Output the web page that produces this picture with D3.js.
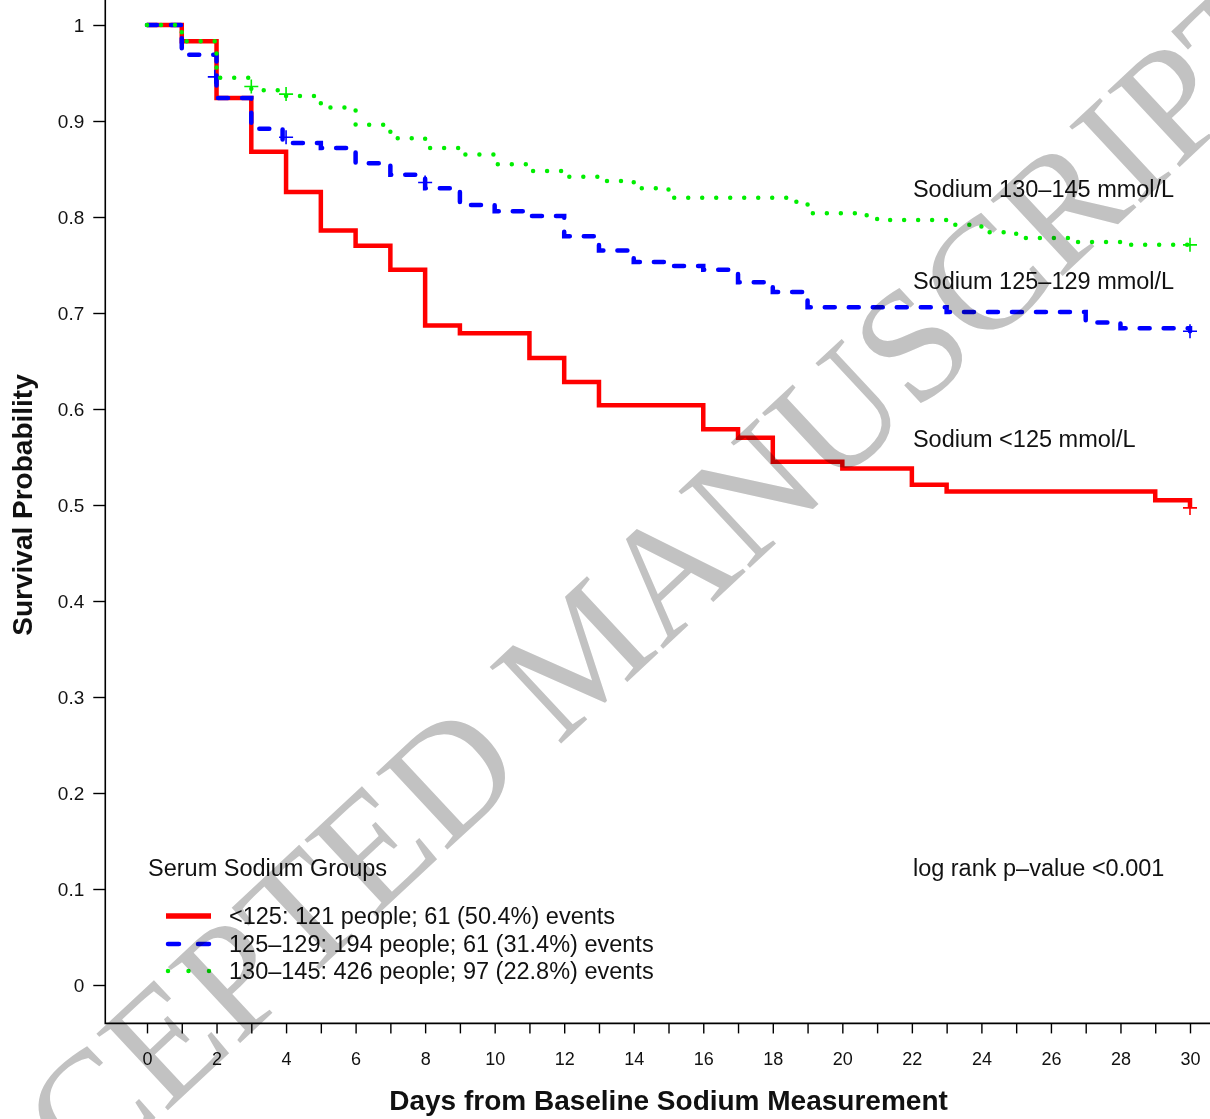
<!DOCTYPE html>
<html>
<head>
<meta charset="utf-8">
<script src="https://cdn.jsdelivr.net/npm/d3@7"></script>
<style>
  body { margin: 0; background: #fff; }
  text { font-family: "Liberation Sans", Arial, Helvetica, sans-serif; fill: #111; }
</style>
</head>
<body>
<div id="vis"></div>
<script>
const FRAME_WIDTH = 1210;
const FRAME_HEIGHT = 1119;

//###############################################################
// Data (Kaplan-Meier steps per sodium group)
//###############################################################

// Sodium <125
const redDays = [0, 1, 2, 3, 4, 5, 6, 7, 8, 9, 11, 12, 13, 16, 17, 18, 20, 22, 23, 29, 30];
const redSurv = [1, 0.983, 0.924, 0.868, 0.826, 0.786, 0.770, 0.745, 0.687, 0.679, 0.653,
                 0.628, 0.604, 0.579, 0.570, 0.545, 0.538, 0.521, 0.514, 0.505, 0.497];
const redCensor = [[30, 0.497]];

// Sodium 125-129
const blueDays = [0, 1, 2, 3, 3.9, 5, 6, 7, 8, 9, 10, 11, 12, 13, 14, 15, 16, 17, 18, 19, 23, 27, 28, 30];
const blueSurv = [1, 0.969, 0.924, 0.892, 0.877, 0.872, 0.856, 0.844, 0.830, 0.8125, 0.806, 0.801,
                  0.780, 0.765, 0.753, 0.749, 0.745, 0.732, 0.722, 0.706, 0.701, 0.690, 0.684, 0.681];
const blueCensor = [[1.95, 0.946], [4, 0.883], [8, 0.836], [30, 0.681]];

// Sodium 130-145
const greenDays = [0, 1, 2, 3, 4, 5, 6, 7, 8, 9, 10, 11, 12, 13, 14, 15, 18.5, 19, 20.7, 21, 23, 24, 25, 26.5, 28, 30];
const greenSurv = [1, 0.983, 0.945, 0.932, 0.926, 0.914, 0.896, 0.882, 0.872, 0.865, 0.855, 0.848,
                   0.842, 0.8375, 0.830, 0.820, 0.816, 0.804, 0.800, 0.797, 0.792, 0.784, 0.778,
                   0.774, 0.771, 0.771];
const greenCensor = [[3, 0.936], [4, 0.928], [30, 0.771]];

// axis ticks
const xTicks = d3.range(0, 31, 1);
const xTickLabels = [0, 2, 4, 6, 8, 10, 12, 14, 16, 18, 20, 22, 24, 26, 28, 30];
const yTicks = [0, 0.1, 0.2, 0.3, 0.4, 0.5, 0.6, 0.7, 0.8, 0.9, 1];

// text
const curveLabels = ["Sodium 130\u2013145 mmol/L", "Sodium 125\u2013129 mmol/L", "Sodium <125 mmol/L"];
const legendTitle = "Serum Sodium Groups";
const legendLabels = ["<125: 121 people; 61 (50.4%) events",
                      "125\u2013129: 194 people; 61 (31.4%) events",
                      "130\u2013145: 426 people; 97 (22.8%) events"];
const pValueText = "log rank p\u2013value <0.001";

//###############################################################
// Frame and scales
//###############################################################

const svg = d3.select("#vis")
  .append("svg")
    .attr("width", FRAME_WIDTH)
    .attr("height", FRAME_HEIGHT);

const X_SCALE = d3.scaleLinear().domain([0, 30]).range([147, 1190]);
const Y_SCALE = d3.scaleLinear().domain([0, 1]).range([985, 25]);

// L shaped box (R adds 4% on each side)
const x0 = X_SCALE(-1.2), x1 = X_SCALE(31.2);
const yBot = Y_SCALE(-0.04), yTop = Y_SCALE(1.04);
svg.append("path")
  .attr("d", `M${x0},${yTop}V${yBot}H${x1}`)
  .attr("fill", "none")
  .attr("stroke", "#000")
  .attr("stroke-width", 1.6);

// y axis
const yAxis = svg.append("g")
  .attr("transform", `translate(${x0},0)`)
  .call(d3.axisLeft(Y_SCALE)
          .tickValues(yTicks)
          .tickSize(12)
          .tickPadding(9)
          .tickFormat(d => String(+d.toFixed(1))));
yAxis.select(".domain").remove();
yAxis.selectAll(".tick line").attr("stroke", "#000").attr("stroke-width", 1.4);
yAxis.selectAll(".tick text")
  .attr("font-size", "19px")
  .attr("font-family", "Liberation Sans, Arial, sans-serif")
  .style("fill", "#111");

// x axis: a tick every day, labels on even days
const xAxis = svg.append("g")
  .attr("transform", `translate(0,${yBot})`)
  .call(d3.axisBottom(X_SCALE)
          .tickValues(xTicks)
          .tickSize(10)
          .tickPadding(19)
          .tickFormat(d => xTickLabels.includes(d) ? d : ""));
xAxis.select(".domain").remove();
xAxis.selectAll(".tick line").attr("stroke", "#000").attr("stroke-width", 1.4);
xAxis.selectAll(".tick text")
  .attr("font-size", "18px")
  .attr("font-family", "Liberation Sans, Arial, sans-serif")
  .style("fill", "#111");

// axis titles
svg.append("text")
  .attr("x", (X_SCALE(0) + X_SCALE(30)) / 2)
  .attr("y", 1110)
  .attr("text-anchor", "middle")
  .attr("font-size", "28px")
  .attr("font-weight", "bold")
  .text("Days from Baseline Sodium Measurement");

svg.append("text")
  .attr("transform", `translate(32,${Y_SCALE(0.5)}) rotate(-90)`)
  .attr("text-anchor", "middle")
  .attr("font-size", "28px")
  .attr("font-weight", "bold")
  .text("Survival Probability");

//###############################################################
// Curves
//###############################################################

const stepLine = d3.line()
  .x(d => X_SCALE(d[0]))
  .y(d => Y_SCALE(d[1]))
  .curve(d3.curveStepAfter);

const series = [
  {days: redDays, surv: redSurv, censor: redCensor, color: "#ff0000", dash: null, cap: "butt"},
  {days: blueDays, surv: blueSurv, censor: blueCensor, color: "#0000ff", dash: "10,14", cap: "round"},
  {days: greenDays, surv: greenSurv, censor: greenCensor, color: "#00ee00", dash: "0,14", cap: "round"}
];

series.forEach(s => {
  const pts = s.days.map((d, j) => [d, s.surv[j]]);
  svg.append("path")
    .datum(pts)
    .attr("d", stepLine)
    .attr("fill", "none")
    .attr("stroke", s.color)
    .attr("stroke-width", 4.5)
    .attr("stroke-linecap", s.cap)
    .attr("stroke-dasharray", s.dash);

  // censor marks
  svg.selectAll(null)
    .data(s.censor)
    .enter()
    .append("path")
      .attr("d", d => {
        const cx = X_SCALE(d[0]), cy = Y_SCALE(d[1]);
        return `M${cx - 7},${cy}H${cx + 7}M${cx},${cy - 7}V${cy + 7}`;
      })
      .attr("stroke", s.color)
      .attr("stroke-width", 1.6);
});

// curve labels
const labelDay = 22.03;
const labelSurv = [0.829, 0.734, 0.569];
svg.selectAll(".curve-label")
  .data(curveLabels)
  .enter()
  .append("text")
    .attr("class", "curve-label")
    .attr("x", X_SCALE(labelDay))
    .attr("y", (d, i) => Y_SCALE(labelSurv[i]))
    .attr("dy", "0.35em")
    .attr("font-size", "23.5px")
    .text(d => d);

//###############################################################
// Legend and p-value
//###############################################################

svg.append("text")
  .attr("x", 148)
  .attr("y", 868)
  .attr("dy", "0.35em")
  .attr("font-size", "23.5px")
  .text(legendTitle);

svg.append("text")
  .attr("x", X_SCALE(labelDay))
  .attr("y", 868)
  .attr("dy", "0.35em")
  .attr("font-size", "23.5px")
  .text(pValueText);

const legendY = [916, 944, 971];
const legendDash = [null, "11,19", "0,20.5"];
const legend = svg.selectAll(".legend-row")
  .data(legendLabels)
  .enter()
  .append("g")
    .attr("class", "legend-row")
    .attr("transform", (d, i) => `translate(0,${legendY[i]})`);

legend.append("line")
  .attr("x1", (d, i) => i === 0 ? 166 : 168)
  .attr("x2", 211)
  .attr("stroke", (d, i) => series[i].color)
  .attr("stroke-width", (d, i) => i === 0 ? 5.5 : 4.5)
  .attr("stroke-linecap", (d, i) => i === 0 ? "butt" : "round")
  .attr("stroke-dasharray", (d, i) => legendDash[i]);

legend.append("text")
  .attr("x", 229)
  .attr("dy", "0.35em")
  .attr("font-size", "23.5px")
  .text(d => d);

//###############################################################
// Watermark
//###############################################################

svg.append("text")
  .attr("transform", "translate(582,652) rotate(-43)")
  .attr("text-anchor", "middle")
  .attr("dy", "0.33em")
  .attr("font-size", "160px")
  .style("font-family", "'Liberation Serif', 'Times New Roman', serif")
  .style("fill", "#c2c2c2")
  .style("mix-blend-mode", "multiply")
  .text("ACCEPTED MANUSCRIPT");
</script>
</body>
</html>
